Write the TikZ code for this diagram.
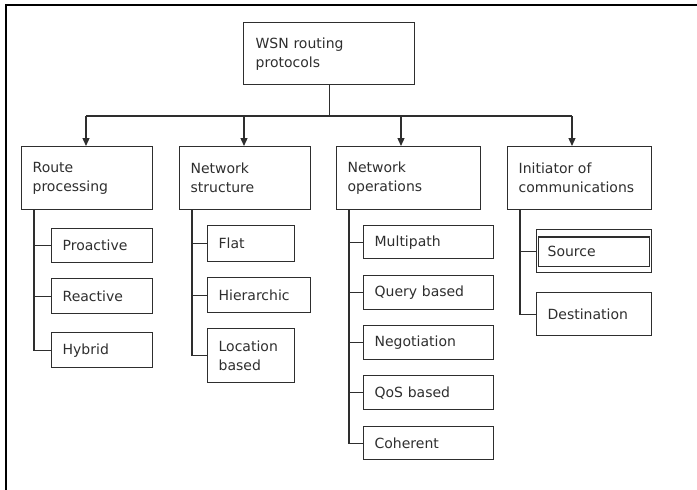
\documentclass[tikz,border=0pt]{standalone}
\usepackage{fontspec}
\setmainfont{DejaVu Sans}
\usetikzlibrary{arrows.meta}
\definecolor{ink}{HTML}{2E2E2E}
\tikzset{
  box/.style={draw=ink, line width=1.3pt, anchor=north west, inner xsep=11pt, inner ysep=2pt,
    align=left, text=ink, font=\fontsize{14}{19}\selectfont},
  conn/.style={draw=ink, line width=1.3pt},
  arr/.style={conn, -{Triangle[length=8pt,width=7pt]}}
}
\begin{document}
\begin{tikzpicture}[x=1pt,y=-1pt]
\useasboundingbox (0,0) rectangle (697,490);
% outer frame
\draw[line width=2.6pt, black] (6,490) -- (6,4.8) -- (697,4.8);
% root
\node[box, inner xsep=12pt, text width=147pt, minimum height=62pt] (root) at (243,22) {WSN routing\\protocols};
% level 1
\node[box, text width=109pt, minimum height=63pt] (rp) at (21,146) {Route\\processing};
\node[box, text width=109pt, minimum height=63pt] (ns) at (179,146) {Network\\structure};
\node[box, text width=122pt, minimum height=63pt] (no) at (336,146) {Network\\operations};
\node[box, text width=122pt, minimum height=63pt] (ic) at (507,146) {Initiator of\\communications};
% bus
\coordinate (bus) at (322,116);
\coordinate (b1) at (86,116);
\coordinate (b2) at (244,116);
\coordinate (b3) at (401,116);
\coordinate (b4) at (572,116);
\draw[conn] (root.south) -- (root.south |- bus);
\draw[conn] (b1) -- (b4);
\draw[arr] (b1) -- (b1 |- rp.north);
\draw[arr] (b2) -- (b2 |- ns.north);
\draw[arr] (b3) -- (b3 |- no.north);
\draw[arr] (b4) -- (b4 |- ic.north);
% route processing children
\node[box, text width=79pt, minimum height=34pt] (pro) at (51,228) {Proactive};
\node[box, text width=79pt, minimum height=35pt] (rea) at (51,278) {Reactive};
\node[box, text width=79pt, minimum height=35pt] (hyb) at (51,332) {Hybrid};
\coordinate (t1) at (34,209);
\draw[conn] (t1) |- (hyb.west);
\draw[conn] (t1 |- pro.west) -- (pro.west);
\draw[conn] (t1 |- rea.west) -- (rea.west);
% network structure children
\node[box, text width=65pt, minimum height=36pt] (flat) at (207,225) {Flat};
\node[box, text width=81pt, minimum height=35pt] (hier) at (207,277) {Hierarchic};
\node[box, text width=65pt, minimum height=54pt] (loc) at (207,328) {Location\\based};
\coordinate (t2) at (192,209);
\draw[conn] (t2) |- (loc.west);
\draw[conn] (t2 |- flat.west) -- (flat.west);
\draw[conn] (t2 |- hier.west) -- (hier.west);
% network operations children
\node[box, text width=108pt, minimum height=33pt] (mp) at (363,225) {Multipath};
\node[box, text width=108pt, minimum height=34pt] (qb) at (363,275) {Query based};
\node[box, text width=108pt, minimum height=34pt] (neg) at (363,325) {Negotiation};
\node[box, text width=108pt, minimum height=34pt] (qos) at (363,375) {QoS based};
\node[box, text width=108pt, minimum height=33pt] (coh) at (363,426) {Coherent};
\coordinate (t3) at (349,209);
\draw[conn] (t3) |- (coh.west);
\draw[conn] (t3 |- mp.west) -- (mp.west);
\draw[conn] (t3 |- qb.west) -- (qb.west);
\draw[conn] (t3 |- neg.west) -- (neg.west);
\draw[conn] (t3 |- qos.west) -- (qos.west);
% initiator children
\node[box, text width=93pt, minimum height=43pt] (src) at (536,229) {Source};
\draw[conn] ([shift={(2.5,8)}]src.north west) rectangle ([shift={(-3,-7)}]src.south east);
\node[box, text width=93pt, minimum height=43pt] (dst) at (536,292) {Destination};
\coordinate (t4) at (520,209);
\draw[conn] (t4) |- (dst.west);
\draw[conn] (t4 |- src.west) -- (src.west);
\end{tikzpicture}
\end{document}
